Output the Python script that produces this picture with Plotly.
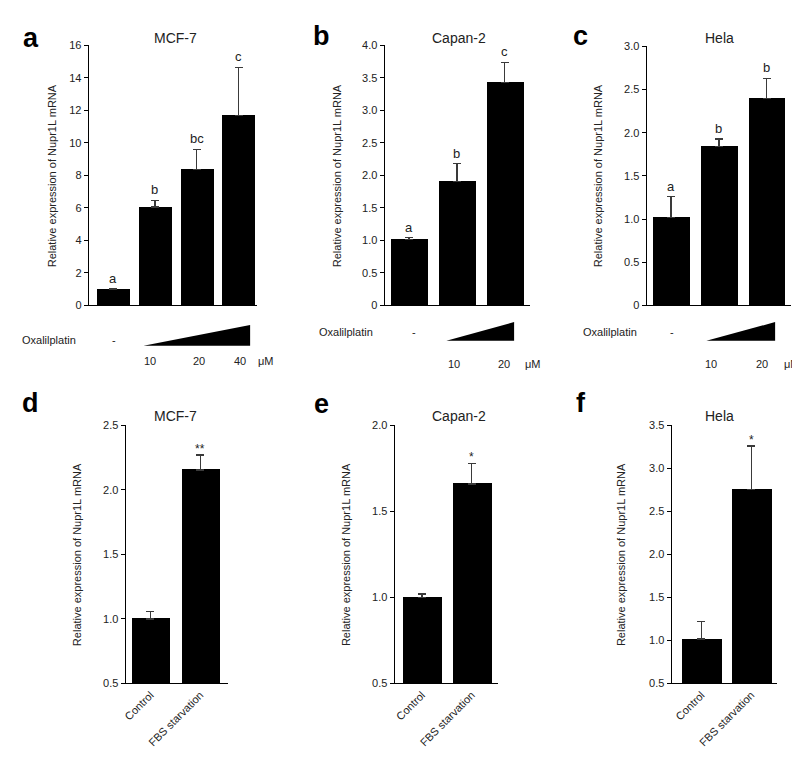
import plotly.graph_objects as go

W, H = 800, 764
FONT = "Arial, Liberation Sans, sans-serif"

# ---------------- data ----------------
# Top row: Oxaliplatin dose response
a_cats = ["ctrl", "10", "20", "40"]
a_vals = [1.0, 6.05, 8.38, 11.7]
a_err = [0.0, 0.42, 1.22, 2.95]
a_sig = ["a", "b", "bc", "c"]

b_cats = ["ctrl", "10", "20"]
b_vals = [1.01, 1.91, 3.43]
b_err = [0.03, 0.27, 0.31]
b_sig = ["a", "b", "c"]

c_cats = ["ctrl", "10", "20"]
c_vals = [1.02, 1.84, 2.40]
c_err = [0.24, 0.09, 0.23]
c_sig = ["a", "b", "b"]

# Bottom row: FBS starvation
d_cats = ["Control", "FBS starvation"]
d_vals = [1.0, 2.155]
d_err = [0.055, 0.115]
d_sig = ["", "**"]

e_cats = ["Control", "FBS starvation"]
e_vals = [1.0, 1.66]
e_err = [0.02, 0.12]
e_sig = ["", "*"]

f_cats = ["Control", "FBS starvation"]
f_vals = [1.015, 2.757]
f_err = [0.205, 0.505]
f_sig = ["", "*"]

a_ticks = [0, 2, 4, 6, 8, 10, 12, 14, 16]
a_ticktext = ["0", "2", "4", "6", "8", "10", "12", "14", "16"]
b_ticks = [0, 0.5, 1.0, 1.5, 2.0, 2.5, 3.0, 3.5, 4.0]
b_ticktext = ["0", "0.5", "1.0", "1.5", "2.0", "2.5", "3.0", "3.5", "4.0"]
c_ticks = [0, 0.5, 1.0, 1.5, 2.0, 2.5, 3.0]
c_ticktext = ["0", "0.5", "1.0", "1.5", "2.0", "2.5", "3.0"]
d_ticks = [0.5, 1.0, 1.5, 2.0, 2.5]
d_ticktext = ["0.5", "1.0", "1.5", "2.0", "2.5"]
e_ticks = [0.5, 1.0, 1.5, 2.0]
e_ticktext = ["0.5", "1.0", "1.5", "2.0"]
f_ticks = [0.5, 1.0, 1.5, 2.0, 2.5, 3.0, 3.5]
f_ticktext = ["0.5", "1.0", "1.5", "2.0", "2.5", "3.0", "3.5"]

titles = ["MCF-7", "Capan-2", "Hela", "MCF-7", "Capan-2", "Hela"]
letters = ["a", "b", "c", "d", "e", "f"]
ytitle = "Relative expression of Nupr1L mRNA"
dose_a = ["10", "20", "40", "μM"]
dose_bc = ["10", "20", "μM"]
drug = "Oxalilplatin"

# ---------------- layout geometry (pixels) ----------------
def px(x):
    return x / W

def py(y):
    return 1 - y / H

panels = [
    # vals, err, sig, cats, xpix, ypix(top,bottom), yrange, xrange, ticks, ticktext, width, showx
    dict(v=a_vals, e=a_err, s=a_sig, c=a_cats, xp=(78, 247), yp=(32, 296), yr=[0, 16], xr=[-0.58, 3.44],
         tv=a_ticks, tt=a_ticktext, w=0.79, showx=False),
    dict(v=b_vals, e=b_err, s=b_sig, c=b_cats, xp=(375, 521), yp=(32, 296), yr=[0, 4], xr=[-0.51, 2.53],
         tv=b_ticks, tt=b_ticktext, w=0.77, showx=False),
    dict(v=c_vals, e=c_err, s=c_sig, c=c_cats, xp=(638, 783), yp=(33, 296), yr=[0, 3], xr=[-0.51, 2.51],
         tv=c_ticks, tt=c_ticktext, w=0.77, showx=False),
    dict(v=d_vals, e=d_err, s=d_sig, c=d_cats, xp=(115, 218), yp=(418, 680), yr=[0.5, 2.5], xr=[-0.5, 1.56],
         tv=d_ticks, tt=d_ticktext, w=0.76, showx=True),
    dict(v=e_vals, e=e_err, s=e_sig, c=e_cats, xp=(385, 489), yp=(418, 680), yr=[0.5, 2.0], xr=[-0.55, 1.53],
         tv=e_ticks, tt=e_ticktext, w=0.78, showx=True),
    dict(v=f_vals, e=f_err, s=f_sig, c=f_cats, xp=(663, 769), yp=(418, 680), yr=[0.5, 3.5], xr=[-0.6, 1.52],
         tv=f_ticks, tt=f_ticktext, w=0.8, showx=True),
]

fig = go.Figure()
annotations = []
layout_axes = {}

for i, p in enumerate(panels):
    n = i + 1
    xa = "x" if n == 1 else f"x{n}"
    ya = "y" if n == 1 else f"y{n}"
    xs = list(range(len(p["v"])))
    fig.add_trace(go.Bar(
        x=xs, y=p["v"], xaxis=xa, yaxis=ya, width=p["w"],
        marker=dict(color="black", line=dict(width=0)),
        error_y=dict(type="data", symmetric=False, array=p["e"],
                     arrayminus=[0] * len(p["e"]), color="#3a3a3a",
                     thickness=1.4, width=4),
        showlegend=False, hoverinfo="skip",
    ))
    xkey = "xaxis" if n == 1 else f"xaxis{n}"
    ykey = "yaxis" if n == 1 else f"yaxis{n}"
    layout_axes[xkey] = dict(
        domain=[px(p["xp"][0]), px(p["xp"][1])], anchor=ya, range=p["xr"],
        showline=True, linecolor="black", linewidth=1, showgrid=False, zeroline=False,
        ticks="", tickmode="array", tickvals=xs,
        ticktext=p["c"] if p["showx"] else [""] * len(xs),
        showticklabels=p["showx"], tickangle=-45,
        tickfont=dict(family=FONT, size=11, color="#222"), fixedrange=True,
    )
    layout_axes[ykey] = dict(
        domain=[py(p["yp"][1]), py(p["yp"][0])], anchor=xa, range=p["yr"],
        showline=True, linecolor="black", linewidth=1, showgrid=False, zeroline=False,
        ticks="outside", ticklen=4, tickwidth=1, tickcolor="black",
        tickmode="array", tickvals=p["tv"], ticktext=p["tt"],
        tickfont=dict(family=FONT, size=11, color="#222"), fixedrange=True,
    )
    # significance labels
    for j, s in enumerate(p["s"]):
        if s:
            annotations.append(dict(
                x=xs[j], y=p["v"][j] + p["e"][j], xref=xa, yref=ya,
                text=s, showarrow=False, yanchor="bottom", yshift=1 if "*" not in s else -3,
                font=dict(family=FONT, size=13 if "*" not in s else 12, color="#222"),
            ))

# Panel letters and titles
letter_pos = [(20, 24), (312, 22), (572, 22), (20, 395), (312, 396), (572, 395)]
title_pos = [(165, 24), (450, 24), (711, 24), (165, 408), (450, 408), (711, 408)]
ytitle_pos = [(42, 164), (328, 164), (590, 164), (67, 549), (337, 549), (613, 549)]
for i in range(6):
    lx, ly = letter_pos[i]
    annotations.append(dict(x=px(lx), y=py(ly), xref="paper", yref="paper", text=f"<b>{letters[i]}</b>",
                            showarrow=False, font=dict(family=FONT, size=27, color="black"),
                            xanchor="center", yanchor="middle"))
    tx, ty = title_pos[i]
    annotations.append(dict(x=px(tx), y=py(ty), xref="paper", yref="paper", text=titles[i],
                            showarrow=False, font=dict(family=FONT, size=14, color="#222"),
                            xanchor="center", yanchor="middle"))
    yx, yy = ytitle_pos[i]
    annotations.append(dict(x=px(yx), y=py(yy), xref="paper", yref="paper", text=ytitle,
                            showarrow=False, textangle=-90,
                            font=dict(family=FONT, size=11, color="#222"),
                            xanchor="center", yanchor="middle"))

# Oxaliplatin rows
drug_rows = [
    dict(tx=38, ty=331, dash=103, tri=(133, 240, 316, 337), doses=dose_a, dx=[140, 189, 230, 256], dy=353),
    dict(tx=336, ty=323, dash=405, tri=(437, 505, 313, 332), doses=dose_bc, dx=[445, 495, 524], dy=356),
    dict(tx=601, ty=323, dash=663, tri=(698, 767, 313, 332), doses=dose_bc, dx=[703, 754, 784], dy=356),
]
shapes = []
for r in drug_rows:
    annotations.append(dict(x=px(r["tx"]), y=py(r["ty"]), xref="paper", yref="paper", text=drug,
                            showarrow=False, font=dict(family=FONT, size=11, color="#222"),
                            xanchor="center", yanchor="middle"))
    annotations.append(dict(x=px(r["dash"]), y=py(r["ty"]), xref="paper", yref="paper", text="-",
                            showarrow=False, font=dict(family=FONT, size=11, color="#222"),
                            xanchor="center", yanchor="middle"))
    x0, x1, yt, yb = r["tri"]
    shapes.append(dict(type="path", xref="paper", yref="paper",
                       path=f"M {px(x0)} {py(yb)} L {px(x1)} {py(yb)} L {px(x1)} {py(yt)} Z",
                       fillcolor="black", line=dict(width=0)))
    for lbl, dx in zip(r["doses"], r["dx"]):
        annotations.append(dict(x=px(dx), y=py(r["dy"]), xref="paper", yref="paper", text=lbl,
                                showarrow=False, font=dict(family=FONT, size=11, color="#222"),
                                xanchor="center", yanchor="middle"))

fig.update_layout(
    width=W, height=H, margin=dict(l=0, r=0, t=0, b=0),
    paper_bgcolor="white", plot_bgcolor="white",
    annotations=annotations, shapes=shapes, bargap=0,
    **layout_axes,
)

fig.write_html("out.html")
